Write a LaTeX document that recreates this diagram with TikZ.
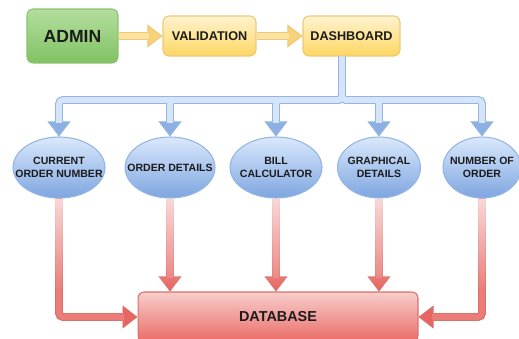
\documentclass[tikz,border=0pt]{standalone}
\usepackage{fontspec}
\setmainfont{Liberation Sans}
\usetikzlibrary{arrows.meta,shapes.geometric,fadings}

\definecolor{txt}{HTML}{1C1C1C}
\definecolor{grntop}{HTML}{B4DE9E}
\definecolor{grnbot}{HTML}{80C263}
\definecolor{grnline}{HTML}{8CC070}
\definecolor{yeltop}{HTML}{FFF3CF}
\definecolor{yelbot}{HTML}{FDD762}
\definecolor{yelline}{HTML}{EDC878}
\definecolor{yelarrow}{HTML}{FCE3A0}
\definecolor{yeltip}{HTML}{F8D27A}
\definecolor{blutop}{HTML}{DAE8FC}
\definecolor{blubot}{HTML}{7EA6E0}
\definecolor{bluline}{HTML}{94B4E2}
\definecolor{bluarrow}{HTML}{D6E4F9}
\definecolor{blutip}{HTML}{8CB0E4}
\definecolor{redtop}{HTML}{F8CECC}
\definecolor{redbot}{HTML}{EA6B66}
\definecolor{redline}{HTML}{D9706C}
\definecolor{redarrow}{HTML}{EC7C78}
\definecolor{redtip}{HTML}{E86662}

\tikzfading[name=redfade, top color=transparent!30, bottom color=transparent!100]

\tikzset{
  adminbox/.style={draw=grnline, line width=0.6pt, rounded corners=3.5pt, top color=grntop, bottom color=grnbot, text=txt, font=\bfseries\fontsize{10}{12}\selectfont},
  stepbox/.style={draw=yelline, line width=0.6pt, rounded corners=3.5pt, top color=yeltop, bottom color=yelbot, text=txt, minimum height=0.8cm, font=\bfseries\fontsize{7.2}{8.6}\selectfont},
  module/.style={ellipse, draw=bluline, line width=0.6pt, top color=blutop, bottom color=blubot, text=txt, align=center, inner xsep=-12pt, inner ysep=0pt, minimum height=1.22cm, font=\bfseries\fontsize{6}{7.4}\selectfont},
  dbbox/.style={draw=redline, line width=0.6pt, rounded corners=3.5pt, top color=redtop, bottom color=redbot, text=txt, font=\bfseries\fontsize{8.2}{10}\selectfont},
  flowout/.style 2 args={line width=4.5pt, draw=#1, rounded corners=0.08cm, -{Triangle[length=0.3cm, width=0.46cm, line width=0.5pt, fill=#2]}},
  flowin/.style={line width=3.2pt, draw=#1, rounded corners=0.08cm, shorten >=0.27cm}
}

\begin{document}
\begin{tikzpicture}[x=0.02cm, y=-0.02cm]
		%%%%% FRAME %%%%%
		\useasboundingbox (0,0) rectangle (519,338);
		\clip (0,0) rectangle (519,338);
		
		%%%%% TOP ROW %%%%%
		\node[adminbox, minimum width=1.82cm, minimum height=1.08cm] (admin) at (72.5,36) {ADMIN};
		\node[stepbox, minimum width=1.86cm] (valid) at (209.5,36) {VALIDATION};
		\node[stepbox, minimum width=1.94cm] (dash) at (351.5,36) {DASHBOARD};
		
		%%%%% MODULES %%%%%
		\node[module, minimum width=1.84cm] (e1) at (59,167.5) {CURRENT\\ORDER NUMBER};
		\node[module, minimum width=1.80cm] (e2) at (170,167.5) {ORDER DETAILS};
		\node[module, minimum width=1.84cm] (e3) at (276,167.5) {BILL\\CALCULATOR};
		\node[module, minimum width=1.66cm] (e4) at (379,167.5) {GRAPHICAL\\DETAILS};
		\node[module, minimum width=1.56cm] (e5) at (482,167.5) {NUMBER OF\\ORDER};
		
		\node[dbbox, minimum width=5.6cm, minimum height=1.0cm] (db) at (278,317) {DATABASE};
		
		%%%%% ARROWS %%%%%
		\draw[flowout={yelline}{yeltip}] (admin) -- (valid);
		\draw[flowin=yelarrow] (admin) -- (valid);
		\draw[flowout={yelline}{yeltip}] (valid) -- (dash);
		\draw[flowin=yelarrow] (valid) -- (dash);
		
		\coordinate (hub) at (342,100);
		\foreach \m in {e1,e2,e3,e4,e5}
			\draw[flowout={bluline}{blutip}] (dash.south -| hub) -- (hub) -| (\m.north);
		\foreach \m in {e1,e2,e3,e4,e5}
			\draw[flowin=bluarrow] (dash.south -| hub) -- (hub) -| (\m.north);
		
		\draw[flowout={redline}{redtip}] (e1.south) |- (db.west);
		\draw[flowout={redline}{redtip}] (e5.south) |- (db.east);
		\foreach \m in {e2,e3,e4}
			\draw[flowout={redline}{redtip}] (\m.south) -- (\m.south |- db.north);
		\draw[flowin=redarrow] (e1.south) |- (db.west);
		\draw[flowin=redarrow] (e5.south) |- (db.east);
		\foreach \m in {e2,e3,e4}
			\draw[flowin=redarrow] (\m.south) -- (\m.south |- db.north);
		
		% lighter tops of the red shafts
		\fill[white, path fading=redfade] (30,199) rectangle (505,291);
\end{tikzpicture}
\end{document}
